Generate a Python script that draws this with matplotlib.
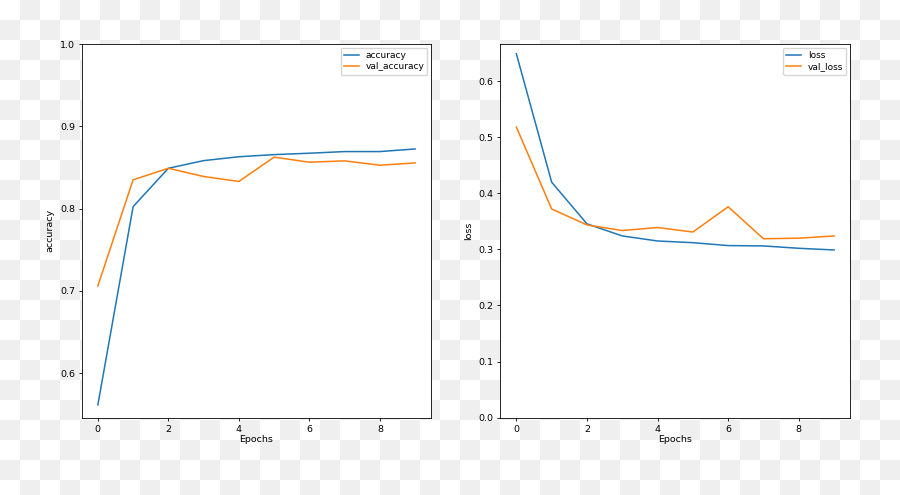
import matplotlib
matplotlib.use('Agg')
import matplotlib.pyplot as plt
import numpy as np

epochs = list(range(10))
accuracy = [0.5615, 0.8024, 0.849, 0.8583, 0.863, 0.8656, 0.8673, 0.8693, 0.8693, 0.8725]
val_accuracy = [0.706, 0.835, 0.849, 0.839, 0.833, 0.8625, 0.8564, 0.858, 0.8527, 0.8555]
loss = [0.6487, 0.4198, 0.3455, 0.324, 0.315, 0.312, 0.3068, 0.3062, 0.302, 0.299]
val_loss = [0.518, 0.372, 0.3437, 0.3336, 0.339, 0.331, 0.376, 0.319, 0.320, 0.324]

plt.rcParams['font.size'] = 6.8
plt.rcParams['axes.linewidth'] = 0.6
plt.rcParams['xtick.major.width'] = 0.6
plt.rcParams['ytick.major.width'] = 0.6
plt.rcParams['xtick.major.size'] = 2.5
plt.rcParams['ytick.major.size'] = 2.5
plt.rcParams['xtick.major.pad'] = 2.5
plt.rcParams['ytick.major.pad'] = 2.5

fig = plt.figure(figsize=(9, 4.95), dpi=100)
fig.patch.set_alpha(0)

# transparent background rendered as a checkerboard
bg = fig.add_axes([0, 0, 1, 1], zorder=-10)
rows, cols = np.indices((25, 45))
checker = np.where((rows + cols) % 2 == 0, 1.0, 0.937)
bg.imshow(checker, cmap='gray', vmin=0, vmax=1, extent=(0, 900, 500, 0),
          aspect='auto', interpolation='nearest')
bg.set_xlim(0, 900)
bg.set_ylim(495, 0)
bg.axis('off')


def plot_graphs(ax, train, val, metric):
    ax.plot(epochs, train, lw=1.1)
    ax.plot(epochs, val, lw=1.1)
    ax.set_xlabel('Epochs', labelpad=1)
    ax.set_ylabel(metric, labelpad=4)
    ax.legend([metric, 'val_' + metric], loc='upper right', fontsize=6.5,
              handlelength=1.7, borderpad=0.35, labelspacing=0.3,
              handletextpad=0.7, borderaxespad=0.4)
    ax.set_facecolor('white')


ax1 = fig.add_axes([0.0911, 0.1562, 0.3878, 0.7549])
plot_graphs(ax1, accuracy, val_accuracy, 'accuracy')
ax1.set_ylim(None, 1)

ax2 = fig.add_axes([0.5561, 0.1562, 0.3883, 0.7549])
plot_graphs(ax2, loss, val_loss, 'loss')
ax2.set_ylim(0, None)

fig.savefig('out.png', dpi=100)
